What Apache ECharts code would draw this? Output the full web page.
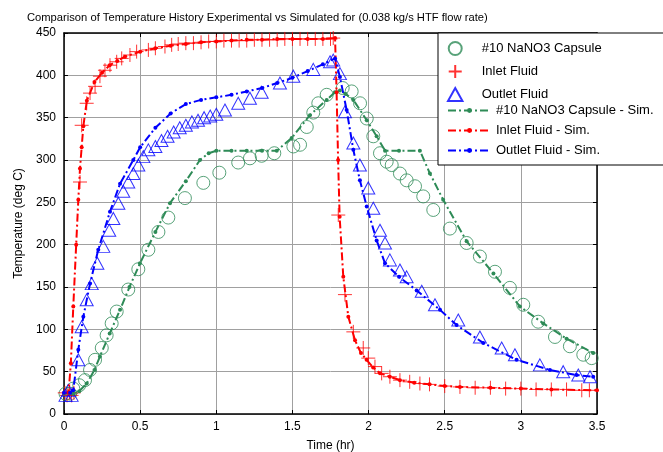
<!DOCTYPE html>
<html><head><meta charset="utf-8">
<script src="https://cdn.jsdelivr.net/npm/echarts@6/dist/echarts.min.js"></script>
<style>html,body{margin:0;padding:0;background:#fff}#c{width:663px;height:452px}</style>
</head><body><div id="c"></div>
<script>
const titleText = 'Comparison of Temperature History Experimental vs Simulated for (0.038 kg/s HTF flow rate)';
const xName = 'Time (hr)';
const yName = 'Temperature (deg C)';
const seriesNames = ['#10 NaNO3 Capsule', 'Inlet Fluid', 'Outlet Fluid', '#10 NaNO3 Capsule - Sim.', 'Inlet Fluid - Sim.', 'Outlet Fluid - Sim.'];

const capsuleExp = [[0.01,24],[0.04,24],[0.061,30],[0.1,34],[0.138,40],[0.171,52],[0.204,64],[0.248,78],[0.28,93],[0.313,107],[0.346,121],[0.422,147],[0.488,171],[0.554,194],[0.62,215],[0.685,232],[0.794,255],[0.915,273],[1.02,285],[1.144,297],[1.221,302],[1.298,305],[1.381,308],[1.506,316],[1.55,318],[1.594,339],[1.637,356],[1.67,367],[1.725,377],[1.83,385],[1.889,381],[1.944,367],[1.988,349],[2.031,328],[2.075,308],[2.119,298],[2.152,294],[2.206,284],[2.25,276],[2.305,269],[2.359,257],[2.425,241],[2.534,219],[2.644,202],[2.731,186],[2.83,168],[2.928,149],[3.016,129],[3.114,109],[3.224,91],[3.322,80],[3.41,70],[3.465,66]];
const inletExp = [[0.005,25],[0.02,22],[0.035,25],[0.05,22],[0.065,25],[0.105,274],[0.116,341],[0.149,367],[0.171,379],[0.204,387],[0.236,399],[0.269,406],[0.302,412],[0.346,416],[0.379,420],[0.433,424],[0.477,428],[0.554,430],[0.6,432],[0.663,434],[0.707,436],[0.75,437],[0.8,438],[0.85,438],[0.9,439],[0.95,440],[1.0,440],[1.05,441],[1.1,441],[1.15,441],[1.2,441],[1.25,442],[1.3,442],[1.35,442],[1.4,442],[1.45,443],[1.5,443],[1.55,443],[1.6,443],[1.65,443],[1.7,443],[1.75,443],[1.768,444],[1.801,235],[1.845,141],[1.9,97],[1.965,78],[1.998,66],[2.042,56],[2.086,48],[2.14,44],[2.206,40],[2.27,38],[2.337,36],[2.4,35],[2.5,33],[2.6,32],[2.7,31],[2.8,31],[2.9,30],[3.0,30],[3.1,29],[3.2,29],[3.3,29],[3.4,28],[3.45,28]];
const outletExp = [[0.01,22],[0.028,28],[0.05,22],[0.094,64],[0.116,103],[0.149,135],[0.182,154],[0.219,178],[0.258,198],[0.297,217],[0.324,231],[0.357,249],[0.389,263],[0.422,274],[0.455,284],[0.488,294],[0.521,304],[0.554,312],[0.6,316],[0.64,323],[0.68,328],[0.72,333],[0.76,338],[0.8,341],[0.84,345],[0.88,347],[0.92,350],[0.96,352],[1.0,354],[1.057,359],[1.144,367],[1.221,373],[1.298,380],[1.418,391],[1.506,399],[1.637,407],[1.747,416],[1.768,418],[1.812,402],[1.845,357],[1.9,320],[1.943,294],[1.998,267],[2.031,243],[2.075,217],[2.108,202],[2.14,182],[2.206,170],[2.25,162],[2.349,145],[2.436,129],[2.589,111],[2.731,91],[2.874,78],[2.961,70],[3.125,58],[3.278,50],[3.377,46],[3.454,44]];
const capsuleSim = [[0,24],[0.06,24],[0.1,27],[0.149,36],[0.2,52],[0.236,68],[0.3,95],[0.368,123],[0.43,150],[0.499,178],[0.6,215],[0.696,249],[0.8,275],[0.893,300],[0.95,308],[1.0,311],[1.1,311],[1.2,311],[1.3,311],[1.397,311],[1.495,326],[1.615,353],[1.725,371],[1.779,380],[1.812,382],[1.85,378],[1.9,371],[1.988,347],[2.053,328],[2.108,311],[2.2,311],[2.337,311],[2.403,284],[2.49,253],[2.644,204],[2.82,166],[2.994,127],[3.147,107],[3.3,89],[3.475,72]];
const inletSim = [[0,25],[0.03,25],[0.045,60],[0.061,127],[0.08,200],[0.094,253],[0.105,290],[0.116,315],[0.127,340],[0.15,370],[0.2,392],[0.25,403],[0.3,412],[0.35,417],[0.4,422],[0.5,428],[0.6,432],[0.7,435],[0.8,437],[0.9,439],[1.0,440],[1.1,441],[1.2,442],[1.3,442],[1.4,443],[1.5,443],[1.6,443],[1.7,443],[1.78,444],[1.79,380],[1.8,300],[1.81,233],[1.834,162],[1.867,115],[1.911,87],[1.95,72],[1.987,64],[2.03,55],[2.075,48],[2.14,44],[2.206,40],[2.3,37],[2.4,35],[2.5,33],[2.6,32],[2.8,31],[3.0,30],[3.2,29],[3.5,28]];
const outletSim = [[0,25],[0.04,25],[0.061,28],[0.094,76],[0.127,115],[0.171,154],[0.225,194],[0.302,239],[0.368,272],[0.455,300],[0.5,315],[0.6,338],[0.7,355],[0.8,366],[0.9,371],[1.0,374],[1.1,377],[1.2,381],[1.3,385],[1.4,391],[1.5,397],[1.6,405],[1.7,413],[1.78,420],[1.812,398],[1.856,359],[1.9,312],[1.943,276],[1.988,245],[2.053,205],[2.108,178],[2.2,162],[2.316,146],[2.469,123],[2.578,105],[2.753,84],[2.972,64],[3.191,52],[3.366,46],[3.475,44]];

const GREEN = '#2e8b57', RED = '#ff0000', BLUE = '#0000ff';
const FONT = 'Liberation Sans, Arial, sans-serif';
const dashDot = [8, 3, 2, 3];
const plusPath = 'path://M0,5L10,5M5,0L5,10';
const triPath = 'path://M5,0L10,9L0,9Z';

const chart = echarts.init(document.getElementById('c'), null, {renderer: 'canvas'});
const axisCommon = {
  type: 'value',
  axisLine: {show: true, onZero: false, lineStyle: {color: '#000', width: 1.5}},
  axisTick: {show: true, inside: true, length: 4, lineStyle: {color: '#000'}},
  axisLabel: {color: '#000', fontFamily: FONT, fontSize: 12},
  splitLine: {show: false}
};
function expSeries(name, data, symbol, size, color) {
  return {name, type: 'scatter', data, symbol, symbolSize: size, z: 2,
    itemStyle: {color: 'rgba(0,0,0,0)', borderColor: color, borderWidth: 1}};
}
function simSeries(name, data, color) {
  return {name, type: 'line', data, symbol: 'circle', symbolSize: 4, showSymbol: true, showAllSymbol: true,
    z: 3, itemStyle: {color}, lineStyle: {color, width: 2, type: dashDot}, animation: false};
}
const legendText = {fontFamily: FONT, fontSize: 13, color: '#000'};
chart.setOption({
  animation: false,
  title: {text: titleText, left: 27, top: 12, padding: 0, textStyle: {fontFamily: FONT, fontSize: 11.2, fontWeight: 'normal', color: '#000'}},
  grid: {left: 64, right: 66, top: 33, bottom: 38, containLabel: false, outerBoundsMode: 'none'},
  xAxis: [
    Object.assign({}, axisCommon, {min: 0, max: 3.5, interval: 0.5, position: 'bottom',
      name: xName, nameLocation: 'middle', nameGap: 26, nameTextStyle: {fontFamily: FONT, fontSize: 12, color: '#000'},
      axisLabel: {color: '#000', fontFamily: FONT, fontSize: 12, margin: 7},
      splitLine: {show: true, lineStyle: {color: '#a0a0a0', width: 1}}}),
    Object.assign({}, axisCommon, {min: 0, max: 3.5, interval: 0.5, position: 'top', axisLabel: {show: false}})
  ],
  yAxis: [
    Object.assign({}, axisCommon, {min: 0, max: 450, interval: 50, position: 'left',
      name: yName, nameLocation: 'middle', nameGap: 39, nameTextStyle: {fontFamily: FONT, fontSize: 12, color: '#000'},
      axisLabel: {color: '#000', fontFamily: FONT, fontSize: 12, margin: 8},
      splitLine: {show: true, lineStyle: {color: '#a0a0a0', width: 1}}}),
    Object.assign({}, axisCommon, {min: 0, max: 450, interval: 50, position: 'right', axisLabel: {show: false}})
  ],
  legend: [
    {data: seriesNames.slice(0, 3).map(n => ({name: n})), orient: 'vertical', left: 447, top: 41, itemWidth: 43, itemHeight: 13, itemGap: 8,
     symbolKeepAspect: true, padding: 0, textStyle: legendText, selectedMode: false, z: 10},
    {data: seriesNames.slice(3), orient: 'vertical', left: 447, top: 104, itemWidth: 43, itemHeight: 6, itemGap: 7,
     padding: 0, textStyle: legendText, selectedMode: false, z: 10}
  ],
  graphic: [{type: 'rect', shape: {x: 438, y: 33, width: 260, height: 132}, z: 9,
    style: {fill: '#fff', stroke: '#000', lineWidth: 1}}],
  series: [
    expSeries(seriesNames[0], capsuleExp, 'circle', 13, GREEN),
    expSeries(seriesNames[1], inletExp, plusPath, 14, RED),
    expSeries(seriesNames[2], outletExp, triPath, [13, 12], BLUE),
    simSeries(seriesNames[3], capsuleSim, GREEN),
    simSeries(seriesNames[4], inletSim, RED),
    simSeries(seriesNames[5], outletSim, BLUE)
  ]
});
</script></body></html>
